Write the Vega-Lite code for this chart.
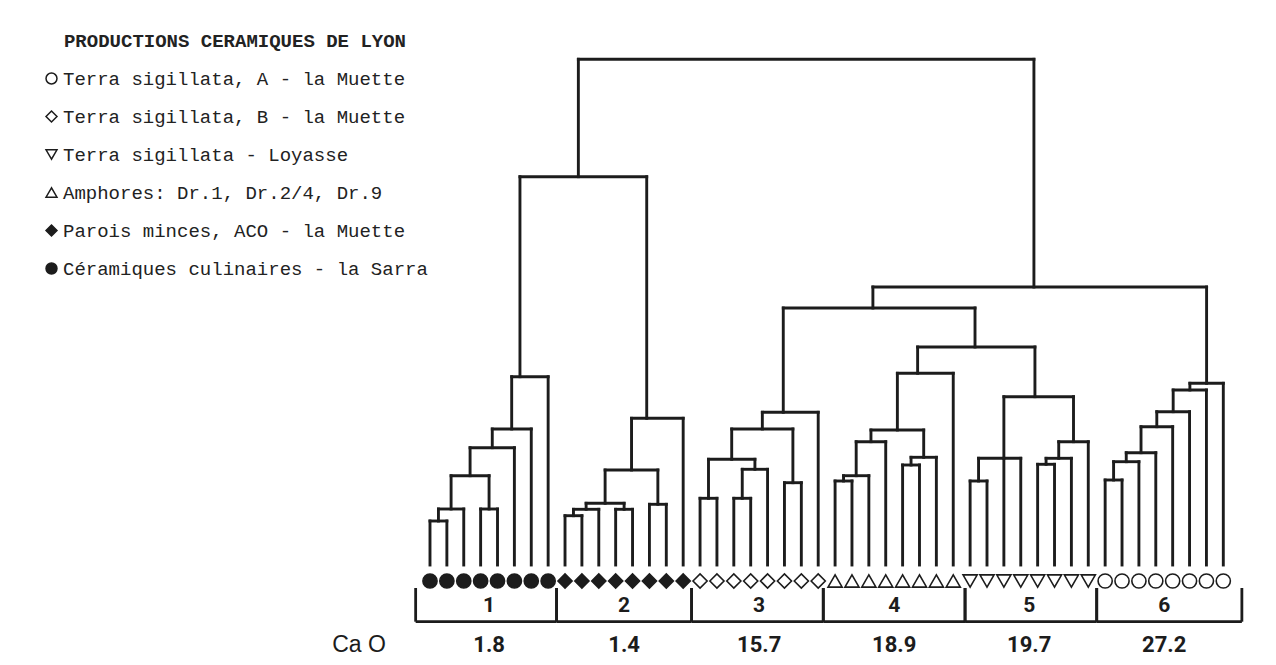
{
  "$schema": "https://vega.github.io/schema/vega-lite/v6.json",
  "width": 1276,
  "height": 665,
  "padding": 0,
  "autosize": {"type": "fit", "contains": "padding"},
  "background": "white",
  "config": {"view": {"stroke": null}},
  "datasets": {
    "segments": [
      {"x":1,"x2":1,"h":0,"h2":8.8},{"x":2,"x2":2,"h":0,"h2":8.8},{"x":1,"x2":2,"h":8.8,"h2":8.8},
      {"x":1.5,"x2":1.5,"h":8.8,"h2":11.2},{"x":3,"x2":3,"h":0,"h2":11.2},{"x":1.5,"x2":3,"h":11.2,"h2":11.2},
      {"x":4,"x2":4,"h":0,"h2":11.2},{"x":5,"x2":5,"h":0,"h2":11.2},{"x":4,"x2":5,"h":11.2,"h2":11.2},
      {"x":2.25,"x2":2.25,"h":11.2,"h2":17.86},{"x":4.5,"x2":4.5,"h":11.2,"h2":17.86},{"x":2.25,"x2":4.5,"h":17.86,"h2":17.86},
      {"x":3.375,"x2":3.375,"h":17.86,"h2":23.46},{"x":6,"x2":6,"h":0,"h2":23.46},{"x":3.375,"x2":6,"h":23.46,"h2":23.46},
      {"x":4.69,"x2":4.69,"h":23.46,"h2":27.2},{"x":7,"x2":7,"h":0,"h2":27.2},{"x":4.69,"x2":7,"h":27.2,"h2":27.2},
      {"x":5.84,"x2":5.84,"h":27.2,"h2":37.66},{"x":8,"x2":8,"h":0,"h2":37.66},{"x":5.84,"x2":8,"h":37.66,"h2":37.66},
      {"x":6.33,"x2":6.33,"h":37.66,"h2":77.66},

      {"x":9,"x2":9,"h":0,"h2":9.86},{"x":10,"x2":10,"h":0,"h2":9.86},{"x":9,"x2":10,"h":9.86,"h2":9.86},
      {"x":9.5,"x2":9.5,"h":9.86,"h2":11.14},{"x":11,"x2":11,"h":0,"h2":11.14},{"x":9.5,"x2":11,"h":11.14,"h2":11.14},
      {"x":12,"x2":12,"h":0,"h2":11.14},{"x":13,"x2":13,"h":0,"h2":11.14},{"x":12,"x2":13,"h":11.14,"h2":11.14},
      {"x":10.25,"x2":10.25,"h":11.14,"h2":12.34},{"x":12.5,"x2":12.5,"h":11.14,"h2":12.34},{"x":10.25,"x2":12.5,"h":12.34,"h2":12.34},
      {"x":14,"x2":14,"h":0,"h2":12.14},{"x":15,"x2":15,"h":0,"h2":12.14},{"x":14,"x2":15,"h":12.14,"h2":12.14},
      {"x":11.375,"x2":11.375,"h":12.34,"h2":19},{"x":14.5,"x2":14.5,"h":12.14,"h2":19},{"x":11.375,"x2":14.5,"h":19,"h2":19},
      {"x":12.94,"x2":12.94,"h":19,"h2":29.34},{"x":16,"x2":16,"h":0,"h2":29.34},{"x":12.94,"x2":16,"h":29.34,"h2":29.34},
      {"x":13.84,"x2":13.84,"h":29.34,"h2":77.66},
      {"x":6.33,"x2":13.84,"h":77.66,"h2":77.66},
      {"x":9.79,"x2":9.79,"h":77.66,"h2":101.14},

      {"x":17,"x2":17,"h":0,"h2":13.34},{"x":18,"x2":18,"h":0,"h2":13.34},{"x":17,"x2":18,"h":13.34,"h2":13.34},
      {"x":19,"x2":19,"h":0,"h2":13.34},{"x":20,"x2":20,"h":0,"h2":13.34},{"x":19,"x2":20,"h":13.34,"h2":13.34},
      {"x":19.5,"x2":19.5,"h":13.34,"h2":19.14},{"x":21,"x2":21,"h":0,"h2":19.14},{"x":19.5,"x2":21,"h":19.14,"h2":19.14},
      {"x":17.5,"x2":17.5,"h":13.34,"h2":21.14},{"x":20.25,"x2":20.25,"h":19.14,"h2":21.14},{"x":17.5,"x2":20.25,"h":21.14,"h2":21.14},
      {"x":22,"x2":22,"h":0,"h2":16.46},{"x":23,"x2":23,"h":0,"h2":16.46},{"x":22,"x2":23,"h":16.46,"h2":16.46},
      {"x":18.875,"x2":18.875,"h":21.14,"h2":27.2},{"x":22.5,"x2":22.5,"h":16.46,"h2":27.2},{"x":18.875,"x2":22.5,"h":27.2,"h2":27.2},
      {"x":20.69,"x2":20.69,"h":27.2,"h2":30.54},{"x":24,"x2":24,"h":0,"h2":30.54},{"x":20.69,"x2":24,"h":30.54,"h2":30.54},
      {"x":21.93,"x2":21.93,"h":30.54,"h2":51.4},

      {"x":25,"x2":25,"h":0,"h2":16.8},{"x":26,"x2":26,"h":0,"h2":16.8},{"x":25,"x2":26,"h":16.8,"h2":16.8},
      {"x":25.5,"x2":25.5,"h":16.8,"h2":17.86},{"x":27,"x2":27,"h":0,"h2":17.86},{"x":25.5,"x2":27,"h":17.86,"h2":17.86},
      {"x":26.25,"x2":26.25,"h":17.86,"h2":24.66},{"x":28,"x2":28,"h":0,"h2":24.66},{"x":26.25,"x2":28,"h":24.66,"h2":24.66},
      {"x":29,"x2":29,"h":0,"h2":20},{"x":30,"x2":30,"h":0,"h2":20},{"x":29,"x2":30,"h":20,"h2":20},
      {"x":29.5,"x2":29.5,"h":20,"h2":21.54},{"x":31,"x2":31,"h":0,"h2":21.54},{"x":29.5,"x2":31,"h":21.54,"h2":21.54},
      {"x":27.125,"x2":27.125,"h":24.66,"h2":27},{"x":30.25,"x2":30.25,"h":21.54,"h2":27},{"x":27.125,"x2":30.25,"h":27,"h2":27},
      {"x":28.69,"x2":28.69,"h":27,"h2":38.34},{"x":32,"x2":32,"h":0,"h2":38.34},{"x":28.69,"x2":32,"h":38.34,"h2":38.34},
      {"x":29.89,"x2":29.89,"h":38.34,"h2":43.6},

      {"x":33,"x2":33,"h":0,"h2":16.8},{"x":34,"x2":34,"h":0,"h2":16.8},{"x":33,"x2":34,"h":16.8,"h2":16.8},
      {"x":33.5,"x2":33.5,"h":16.8,"h2":21.34},{"x":35,"x2":35,"h":0,"h2":21.34},{"x":36,"x2":36,"h":0,"h2":21.34},{"x":33.5,"x2":36,"h":21.34,"h2":21.34},
      {"x":37,"x2":37,"h":0,"h2":20.14},{"x":38,"x2":38,"h":0,"h2":20.14},{"x":37,"x2":38,"h":20.14,"h2":20.14},
      {"x":37.5,"x2":37.5,"h":20.14,"h2":21.34},{"x":39,"x2":39,"h":0,"h2":21.34},{"x":37.5,"x2":39,"h":21.34,"h2":21.34},
      {"x":38.25,"x2":38.25,"h":21.34,"h2":24.66},{"x":40,"x2":40,"h":0,"h2":24.66},{"x":38.25,"x2":40,"h":24.66,"h2":24.66},
      {"x":35,"x2":35,"h":21.34,"h2":33.66},{"x":39.125,"x2":39.125,"h":24.66,"h2":33.66},{"x":35,"x2":39.125,"h":33.66,"h2":33.66},
      {"x":36.84,"x2":36.84,"h":33.66,"h2":43.6},
      {"x":29.89,"x2":36.84,"h":43.6,"h2":43.6},
      {"x":33.29,"x2":33.29,"h":43.6,"h2":51.4},
      {"x":21.93,"x2":33.29,"h":51.4,"h2":51.4},
      {"x":27.24,"x2":27.24,"h":51.4,"h2":55.6},

      {"x":41,"x2":41,"h":0,"h2":17},{"x":42,"x2":42,"h":0,"h2":17},{"x":41,"x2":42,"h":17,"h2":17},
      {"x":41.5,"x2":41.5,"h":17,"h2":20.66},{"x":43,"x2":43,"h":0,"h2":20.66},{"x":41.5,"x2":43,"h":20.66,"h2":20.66},
      {"x":42.25,"x2":42.25,"h":20.66,"h2":22.46},{"x":44,"x2":44,"h":0,"h2":22.46},{"x":42.25,"x2":44,"h":22.46,"h2":22.46},
      {"x":43.125,"x2":43.125,"h":22.46,"h2":27.66},{"x":45,"x2":45,"h":0,"h2":27.66},{"x":43.125,"x2":45,"h":27.66,"h2":27.66},
      {"x":44.06,"x2":44.06,"h":27.66,"h2":30.66},{"x":46,"x2":46,"h":0,"h2":30.66},{"x":44.06,"x2":46,"h":30.66,"h2":30.66},
      {"x":45.03,"x2":45.03,"h":30.66,"h2":35},{"x":47,"x2":47,"h":0,"h2":35},{"x":45.03,"x2":47,"h":35,"h2":35},
      {"x":46.02,"x2":46.02,"h":35,"h2":36.34},{"x":48,"x2":48,"h":0,"h2":36.34},{"x":46.02,"x2":48,"h":36.34,"h2":36.34},
      {"x":47.01,"x2":47.01,"h":36.34,"h2":55.6},
      {"x":27.24,"x2":47.01,"h":55.6,"h2":55.6},
      {"x":36.78,"x2":36.78,"h":55.6,"h2":101.14},
      {"x":9.79,"x2":36.78,"h":101.14,"h2":101.14}
    ],
    "leaves": [
      {"leaf":1,"type":"Céramiques culinaires - la Sarra"},{"leaf":2,"type":"Céramiques culinaires - la Sarra"},
      {"leaf":3,"type":"Céramiques culinaires - la Sarra"},{"leaf":4,"type":"Céramiques culinaires - la Sarra"},
      {"leaf":5,"type":"Céramiques culinaires - la Sarra"},{"leaf":6,"type":"Céramiques culinaires - la Sarra"},
      {"leaf":7,"type":"Céramiques culinaires - la Sarra"},{"leaf":8,"type":"Céramiques culinaires - la Sarra"},
      {"leaf":9,"type":"Parois minces, ACO - la Muette"},{"leaf":10,"type":"Parois minces, ACO - la Muette"},
      {"leaf":11,"type":"Parois minces, ACO - la Muette"},{"leaf":12,"type":"Parois minces, ACO - la Muette"},
      {"leaf":13,"type":"Parois minces, ACO - la Muette"},{"leaf":14,"type":"Parois minces, ACO - la Muette"},
      {"leaf":15,"type":"Parois minces, ACO - la Muette"},{"leaf":16,"type":"Parois minces, ACO - la Muette"},
      {"leaf":17,"type":"Terra sigillata, B - la Muette"},{"leaf":18,"type":"Terra sigillata, B - la Muette"},
      {"leaf":19,"type":"Terra sigillata, B - la Muette"},{"leaf":20,"type":"Terra sigillata, B - la Muette"},
      {"leaf":21,"type":"Terra sigillata, B - la Muette"},{"leaf":22,"type":"Terra sigillata, B - la Muette"},
      {"leaf":23,"type":"Terra sigillata, B - la Muette"},{"leaf":24,"type":"Terra sigillata, B - la Muette"},
      {"leaf":25,"type":"Amphores: Dr.1, Dr.2/4, Dr.9"},{"leaf":26,"type":"Amphores: Dr.1, Dr.2/4, Dr.9"},
      {"leaf":27,"type":"Amphores: Dr.1, Dr.2/4, Dr.9"},{"leaf":28,"type":"Amphores: Dr.1, Dr.2/4, Dr.9"},
      {"leaf":29,"type":"Amphores: Dr.1, Dr.2/4, Dr.9"},{"leaf":30,"type":"Amphores: Dr.1, Dr.2/4, Dr.9"},
      {"leaf":31,"type":"Amphores: Dr.1, Dr.2/4, Dr.9"},{"leaf":32,"type":"Amphores: Dr.1, Dr.2/4, Dr.9"},
      {"leaf":33,"type":"Terra sigillata - Loyasse"},{"leaf":34,"type":"Terra sigillata - Loyasse"},
      {"leaf":35,"type":"Terra sigillata - Loyasse"},{"leaf":36,"type":"Terra sigillata - Loyasse"},
      {"leaf":37,"type":"Terra sigillata - Loyasse"},{"leaf":38,"type":"Terra sigillata - Loyasse"},
      {"leaf":39,"type":"Terra sigillata - Loyasse"},{"leaf":40,"type":"Terra sigillata - Loyasse"},
      {"leaf":41,"type":"Terra sigillata, A - la Muette"},{"leaf":42,"type":"Terra sigillata, A - la Muette"},
      {"leaf":43,"type":"Terra sigillata, A - la Muette"},{"leaf":44,"type":"Terra sigillata, A - la Muette"},
      {"leaf":45,"type":"Terra sigillata, A - la Muette"},{"leaf":46,"type":"Terra sigillata, A - la Muette"},
      {"leaf":47,"type":"Terra sigillata, A - la Muette"},{"leaf":48,"type":"Terra sigillata, A - la Muette"}
    ],
    "groups": [
      {"group":"1","cao":"1.8","start":0.15,"end":8.5,"center":4.5},
      {"group":"2","cao":"1.4","start":8.5,"end":16.5,"center":12.5},
      {"group":"3","cao":"15.7","start":16.5,"end":24.3,"center":20.5},
      {"group":"4","cao":"18.9","start":24.3,"end":32.7,"center":28.5},
      {"group":"5","cao":"19.7","start":32.7,"end":40.5,"center":36.5},
      {"group":"6","cao":"27.2","start":40.5,"end":49.1,"center":44.5}
    ]
  },
  "layer": [
    {
      "data": {"name": "segments"},
      "mark": {"type": "rule", "stroke": "#1c1c1c", "strokeWidth": 2.9, "strokeCap": "square"},
      "encoding": {
        "x": {"field": "x", "type": "quantitative", "scale": {"domain": [-24.475, 51.122], "nice": false, "zero": false}, "axis": null},
        "x2": {"field": "x2"},
        "y": {"field": "h", "type": "quantitative", "scale": {"domain": [-20, 113], "nice": false, "zero": false}, "axis": null},
        "y2": {"field": "h2"}
      }
    },
    {
      "data": {"name": "leaves"},
      "mark": {"type": "point", "filled": true, "stroke": "#1c1c1c", "strokeWidth": 1.6, "opacity": 1, "size": 200},
      "encoding": {
        "x": {"field": "leaf", "type": "quantitative", "scale": {"domain": [-24.475, 51.122], "nice": false, "zero": false}, "axis": null},
        "y": {"datum": -3.2, "type": "quantitative", "scale": {"domain": [-20, 113], "nice": false, "zero": false}, "axis": null},
        "shape": {
          "field": "type", "type": "nominal",
          "scale": {
            "domain": ["Terra sigillata, A - la Muette", "Terra sigillata, B - la Muette", "Terra sigillata - Loyasse", "Amphores: Dr.1, Dr.2/4, Dr.9", "Parois minces, ACO - la Muette", "Céramiques culinaires - la Sarra"],
            "range": ["circle", "diamond", "triangle-down", "triangle-up", "diamond", "circle"]
          },
          "legend": {
            "orient": "none", "legendX": 42, "legendY": 32, "padding": 0,
            "title": "PRODUCTIONS CERAMIQUES DE LYON", "titleAnchor": "middle",
            "titleFont": "Liberation Mono", "titleFontSize": 19, "titleFontWeight": "bold", "titleColor": "#222", "titlePadding": 18, "titleLimit": 0,
            "labelFont": "Liberation Mono", "labelFontSize": 19, "labelColor": "#222", "labelLimit": 0, "labelOffset": 2,
            "rowPadding": 18, "symbolSize": 120,
            "encode": {
              "symbols": {"update": {"stroke": {"value": "#1c1c1c"}, "strokeWidth": {"value": 1.5}}}
            }
          }
        },
        "fill": {
          "field": "type", "type": "nominal",
          "scale": {
            "domain": ["Terra sigillata, A - la Muette", "Terra sigillata, B - la Muette", "Terra sigillata - Loyasse", "Amphores: Dr.1, Dr.2/4, Dr.9", "Parois minces, ACO - la Muette", "Céramiques culinaires - la Sarra"],
            "range": ["white", "white", "white", "white", "#1c1c1c", "#1c1c1c"]
          },
          "legend": {
            "orient": "none", "legendX": 42, "legendY": 32, "padding": 0,
            "title": "PRODUCTIONS CERAMIQUES DE LYON", "titleAnchor": "middle",
            "titleFont": "Liberation Mono", "titleFontSize": 19, "titleFontWeight": "bold", "titleColor": "#222", "titlePadding": 18, "titleLimit": 0,
            "labelFont": "Liberation Mono", "labelFontSize": 19, "labelColor": "#222", "labelLimit": 0, "labelOffset": 2,
            "rowPadding": 18, "symbolSize": 120,
            "encode": {
              "symbols": {"update": {"stroke": {"value": "#1c1c1c"}, "strokeWidth": {"value": 1.5}}}
            }
          }
        }
      }
    },
    {
      "data": {"name": "groups"},
      "mark": {"type": "rule", "stroke": "#1c1c1c", "strokeWidth": 2.8},
      "encoding": {
        "x": {"field": "start", "type": "quantitative"},
        "x2": {"field": "end"},
        "y": {"datum": -11.34, "type": "quantitative"}
      }
    },
    {
      "data": {"name": "groups"},
      "mark": {"type": "rule", "stroke": "#1c1c1c", "strokeWidth": 2.8},
      "encoding": {
        "x": {"field": "start", "type": "quantitative"},
        "y": {"datum": -4.6, "type": "quantitative"},
        "y2": {"datum": -11.34}
      }
    },
    {
      "data": {"name": "groups"},
      "mark": {"type": "rule", "stroke": "#1c1c1c", "strokeWidth": 2.8},
      "encoding": {
        "x": {"field": "end", "type": "quantitative"},
        "y": {"datum": -4.6, "type": "quantitative"},
        "y2": {"datum": -11.34}
      }
    },
    {
      "data": {"name": "groups"},
      "mark": {"type": "text", "font": "Liberation Sans Narrow, Roboto, Liberation Sans", "fontSize": 21, "fontWeight": "bold", "fill": "#1c1c1c", "baseline": "middle", "align": "center"},
      "encoding": {
        "x": {"field": "center", "type": "quantitative"},
        "y": {"datum": -8.2, "type": "quantitative"},
        "text": {"field": "group"}
      }
    },
    {
      "data": {"name": "groups"},
      "mark": {"type": "text", "font": "Liberation Sans Narrow, Roboto, Liberation Sans", "fontSize": 22, "fontWeight": "bold", "fill": "#1c1c1c", "baseline": "middle", "align": "center"},
      "encoding": {
        "x": {"field": "center", "type": "quantitative"},
        "y": {"datum": -16, "type": "quantitative"},
        "text": {"field": "cao"}
      }
    },
    {
      "data": {"values": [{"label": "Ca O"}]},
      "mark": {"type": "text", "font": "Liberation Sans", "fontSize": 23, "fill": "#1c1c1c", "baseline": "middle", "align": "center"},
      "encoding": {
        "x": {"datum": -3.2, "type": "quantitative"},
        "y": {"datum": -16, "type": "quantitative"},
        "text": {"field": "label"}
      }
    }
  ]
}
